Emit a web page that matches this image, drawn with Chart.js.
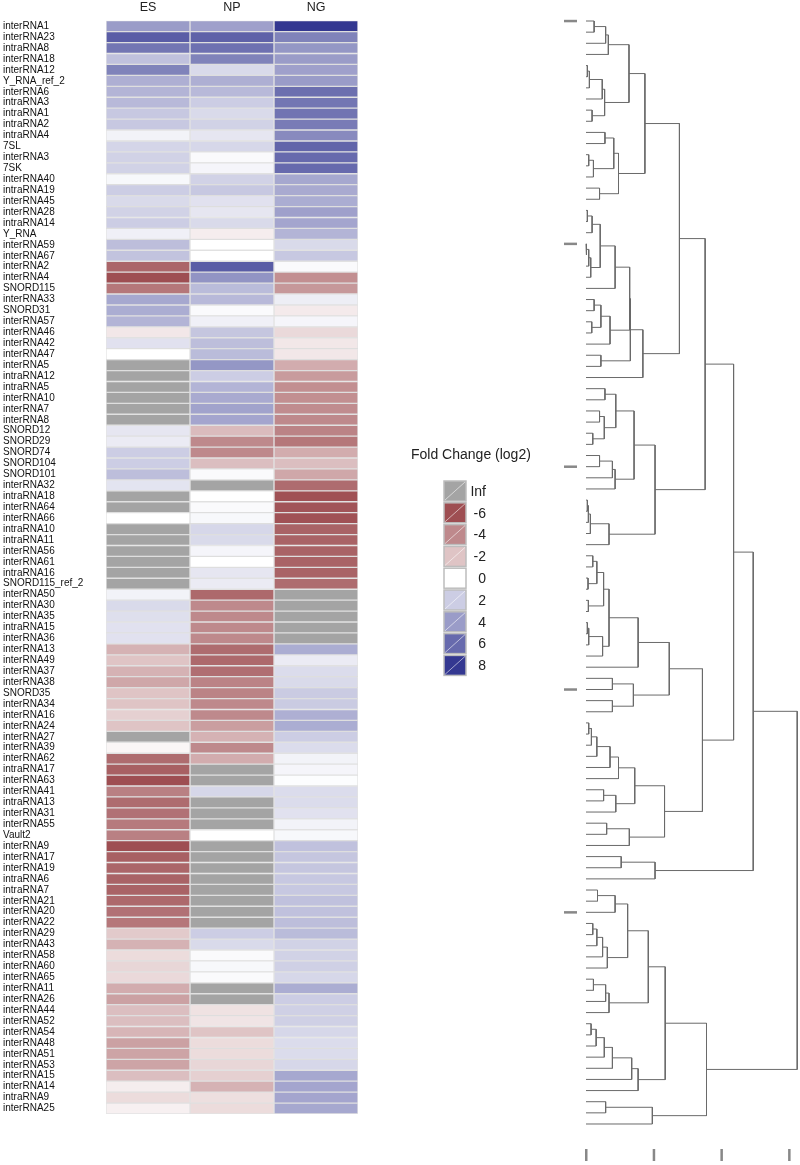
<!DOCTYPE html>
<html>
<head>
<meta charset="utf-8">
<script src="https://cdn.jsdelivr.net/npm/chart.js@4.4.0/dist/chart.umd.min.js"></script>
<style>
  body { margin: 0; background: #fff; }
  #heat { position: absolute; left: 0; top: 0; }
  #tree { position: absolute; left: 555px; top: 0; }
</style>
</head>
<body>
<canvas id="heat" width="555" height="1165"></canvas>
<canvas id="tree" width="245" height="1165"></canvas>
<script>
const Inf = Infinity;

const rowNames = [
    "interRNA1", "interRNA23", "intraRNA8", "interRNA18", "interRNA12", "Y_RNA_ref_2", "interRNA6", "intraRNA3", "intraRNA1", "intraRNA2",
    "intraRNA4", "7SL", "interRNA3", "7SK", "interRNA40", "intraRNA19", "interRNA45", "interRNA28", "intraRNA14", "Y_RNA",
    "interRNA59", "interRNA67", "interRNA2", "interRNA4", "SNORD115", "interRNA33", "SNORD31", "interRNA57", "interRNA46", "interRNA42",
    "interRNA47", "interRNA5", "intraRNA12", "intraRNA5", "interRNA10", "interRNA7", "interRNA8", "SNORD12", "SNORD29", "SNORD74",
    "SNORD104", "SNORD101", "interRNA32", "intraRNA18", "interRNA64", "interRNA66", "intraRNA10", "intraRNA11", "interRNA56", "interRNA61",
    "intraRNA16", "SNORD115_ref_2", "interRNA50", "interRNA30", "interRNA35", "intraRNA15", "interRNA36", "interRNA13", "interRNA49", "interRNA37",
    "interRNA38", "SNORD35", "interRNA34", "interRNA16", "interRNA24", "interRNA27", "interRNA39", "interRNA62", "intraRNA17", "interRNA63",
    "interRNA41", "intraRNA13", "interRNA31", "interRNA55", "Vault2", "interRNA9", "interRNA17", "interRNA19", "intraRNA6", "intraRNA7",
    "interRNA21", "interRNA20", "interRNA22", "interRNA29", "interRNA43", "interRNA58", "interRNA60", "interRNA65", "interRNA11", "interRNA26",
    "interRNA44", "interRNA52", "interRNA54", "interRNA48", "interRNA51", "interRNA53", "interRNA15", "interRNA14", "intraRNA9", "interRNA25"
];
const columnNames = ["ES", "NP", "NG"];

// log2 fold change, Inf = grey cell
const esValues = [
    4, 6.5, 5.5, 2.5, 5, 3.2, 3, 2.8, 2.2, 2.2,
    0.5, 1.7, 1.8, 1.8, 0.3, 2, 1.5, 1.8, 2, 0.6,
    2.6, 2.4, -5.2, -6, -4.6, 3.5, 3.3, 3, -0.8, 1.2,
    0, Inf, Inf, Inf, Inf, Inf, Inf, 1, 0.8, 2,
    2, 2.6, 1.1, Inf, Inf, 0, Inf, Inf, Inf, Inf,
    Inf, Inf, 0.5, 1.5, 1.3, 1.2, 1.2, -2.6, -2, -2.6,
    -3, -2, -2, -1.6, -2, Inf, -0.3, -5, -5.4, -6,
    -4.3, -5, -4.8, -4.5, -4.3, -6, -5.4, -5.2, -5.3, -5.3,
    -5.1, -4.8, -4.6, -1.8, -2.6, -1.2, -1.4, -1.3, -2.8, -3.2,
    -2.2, -2.2, -2.5, -3.2, -3.1, -3.1, -2.2, -0.6, -1.2, -0.5
];
const npValues = [
    3.8, 6.3, 5.7, 5, 1.5, 3.2, 2.8, 2, 1.5, 1.8,
    1, 1.6, 0.2, 0.4, 1.8, 2.2, 1.2, 1, 1.5, -0.6,
    0, 0, 6.5, 4.3, 2.7, 2.8, 0.2, 0.6, 2.3, 2.6,
    2.7, 4.2, 2, 3, 3.4, 3.7, 3.6, -2.3, -4, -4,
    -2.2, 0.2, Inf, 0, 0.2, 0.3, 1.6, 1.5, 0.4, 0,
    1, 0.8, -5.1, -4, -4, -4, -4, -5, -5.1, -4.9,
    -4.2, -4.2, -4, -4, -3.3, -2.6, -4, -2.8, Inf, Inf,
    1.6, Inf, Inf, Inf, 0, Inf, Inf, Inf, Inf, Inf,
    Inf, Inf, Inf, 2, 1.5, 0.2, 0.3, 0.2, Inf, Inf,
    -1, -0.9, -2, -1.2, -1.2, -1.4, -1.6, -2.6, -1.1, -1.2
];
const ngValues = [
    8, 5, 4.2, 4, 3.8, 4, 5.8, 5.5, 5.6, 5.3,
    4.7, 6.2, 6, 6, 3.5, 3.4, 3.3, 3.8, 3.6, 3,
    1.5, 2.2, 0.2, -3.8, -3.5, 0.7, -0.7, 0.4, -1.3, -0.8,
    -0.8, -2.8, -3.4, -3.8, -3.8, -3.9, -4, -4.2, -4.6, -2.8,
    -2.2, -3, -5, -5.9, -5.8, -5.9, -5.3, -5.3, -5.3, -5.3,
    -5.3, -5, Inf, Inf, Inf, Inf, Inf, 3.3, 0.8, 1.4,
    1.5, 2.1, 2.1, 3.2, 3.3, 2, 1.4, 0.5, 0.4, 0.1,
    1.4, 1.4, 1.2, 0.5, 0.3, 2.5, 2.3, 2.3, 2.2, 2.2,
    2.5, 2.5, 2.6, 2.7, 1.8, 1.8, 1.9, 1.6, 3.3, 2,
    1.9, 1.9, 1.6, 1.4, 1.4, 1.6, 3.5, 3.6, 3.6, 3.5
];

const legendValues = [Inf, -6, -4, -2, 0, 2, 4, 6, 8];
const legendLabels = ["Inf", "-6", "-4", "-2", "0", "2", "4", "6", "8"];
const legendTitle = "Fold Change (log2)";

// dendrogram: (left,right)height, leaves are row indexes
const treeA = "(((0,1)0.12,2)0.29,3)0.33";
const treeB = "((((4,5)0.02,6)0.05,7)0.24,(8,9)0.09)0.275";
const treeC = "(((10,11)0.28,((12,13)0.04,14)0.11)0.41,(15,16)0.2)0.48";
const treeD1 = "((((17,18)0.02,19)0.09,(((20,21)0.01,22)0.04,23)0.07)0.21,24)0.43";
const treeD2 = "(((25,26)0.12,(27,28)0.085)0.22,29)0.355";
const treeE1 = "(((33,34)0.28,((35,36)0.2,(37,38)0.1)0.27)0.44,(((39,40)0.2,41)0.39,42)0.43)0.71";
const treeE2 = "((((43,44)0.02,45)0.035,46)0.065,47)0.34";
const treeU1a = "(((((48,49)0.1,(50,51)0.03)0.16,(52,53)0.035)0.26,(((54,55)0.02,56)0.04,57)0.245)0.34,58)0.77";
const treeU1b = "((59,60)0.39,(61,62)0.39)0.7";
const treeU2a = "((((((63,64)0.04,65)0.08,66)0.16,67)0.355,68)0.48,((69,70)0.26,71)0.44)0.72";
const treeU2b = "((72,73)0.305,74)0.64";
const treeS = "((75,76)0.52,77)1.02";
const treeQ1a = "((((78,79)0.17,80)0.43,((((81,82)0.1,83)0.16,84)0.245,85)0.315)0.615,(((86,87)0.11,88)0.29,89)0.34)0.92";
const treeQ1b = "((((((90,91)0.075,92)0.15,93)0.27,94)0.39,95)0.675,96)0.77";
const treeQ2 = "((97,98)0.29,99)0.98";

const treeV = `(((${treeA},${treeB})0.635,${treeC})0.87,(((${treeD1},${treeD2})0.645,(30,31)0.22)0.655,32)0.84)1.38`;
const treeT = `(${treeV},(${treeE1},${treeE2})1.02)1.76`;
const treeU = `((${treeU1a},${treeU1b})1.23,(${treeU2a},${treeU2b})1.16)1.72`;
const treeQ = `((${treeQ1a},${treeQ1b})1.17,${treeQ2})1.78`;
const treeString = `(((${treeT},${treeU})2.18,${treeS})2.47,${treeQ})3.12`;

const treeHeightTicks = [0, 1, 2, 3];
const treeLeafTicks = [0, 20, 40, 60, 80];

Chart.defaults.font.family = "'Liberation Sans', Arial, sans-serif";
Chart.defaults.color = "#222";

const blueEnd = [52, 56, 145];
const redEnd = [158, 78, 82];

const colorFor = v => {
    if (!isFinite(v)) return "rgb(164,164,164)";
    const end = v > 0 ? blueEnd : redEnd;
    const t = Math.min(Math.abs(v) / (v > 0 ? 8 : 6), 1);
    const c = end.map(e => Math.round(255 + (e - 255) * t));
    return `rgb(${c[0]},${c[1]},${c[2]})`;
};

const legendPlugin = {
    id: "foldLegend",
    afterDraw(chart) {
        const ctx = chart.ctx;
        ctx.save();
        ctx.fillStyle = "#222";
        ctx.font = "14px 'Liberation Sans', Arial, sans-serif";
        ctx.textAlign = "left";
        ctx.textBaseline = "middle";
        ctx.fillText(legendTitle, 411, 455);
        const x = 444, top = 481, step = 21.8, w = 22, h = 20;
        legendValues.forEach((v, i) => {
            const y = top + i * step;
            ctx.fillStyle = colorFor(v);
            ctx.fillRect(x, y, w, h);
            ctx.strokeStyle = "#bdbdbd";
            ctx.lineWidth = 1.5;
            ctx.strokeRect(x, y, w, h);
            ctx.strokeStyle = "rgba(255,255,255,0.7)";
            ctx.lineWidth = 0.8;
            ctx.beginPath();
            ctx.moveTo(x + 1, y + h - 1);
            ctx.lineTo(x + w - 1, y + 1);
            ctx.stroke();
            ctx.fillStyle = "#222";
            ctx.textAlign = "right";
            ctx.fillText(legendLabels[i], 486, y + h / 2 + 1);
        });
        ctx.restore();
    }
};

const columnData = [esValues, npValues, ngValues];

const heat = new Chart(document.getElementById("heat"), {
    type: "bar",
    data: {
        labels: rowNames,
        datasets: columnNames.map((name, c) => ({
            label: name,
            data: rowNames.map(() => 1),
            backgroundColor: columnData[c].map(colorFor),
            borderColor: "rgba(205,205,205,0.55)",
            borderWidth: 1,
            borderSkipped: false,
            barPercentage: 1,
            categoryPercentage: 1
        }))
    },
    options: {
        responsive: false,
        animation: false,
        indexAxis: "y",
        layout: { padding: { left: 3, right: 197, top: 0, bottom: 51 } },
        plugins: { legend: { display: false }, tooltip: { enabled: false } },
        scales: {
            x: {
                stacked: true,
                position: "top",
                min: 0,
                max: 3,
                grid: { display: false, drawTicks: false },
                border: { display: false },
                afterBuildTicks: scale => {
                    scale.ticks = columnNames.map((n, i) => ({ value: i + 0.5 }));
                },
                afterFit: scale => { scale.height = 20.7; },
                ticks: {
                    padding: 6,
                    font: { size: 12.5 },
                    color: "#222",
                    callback: v => columnNames[Math.floor(v)]
                }
            },
            y: {
                stacked: true,
                grid: { display: false, drawTicks: false },
                border: { display: false },
                afterFit: scale => { scale.width = 103; },
                ticks: {
                    autoSkip: false,
                    crossAlign: "far",
                    font: { size: 10 },
                    color: "#111"
                }
            }
        }
    },
    plugins: [legendPlugin]
});

// dendrogram
function parseTree(str) {
    let pos = 0;
    const readNumber = () => {
        const m = /^[\d.]+/.exec(str.slice(pos));
        pos += m[0].length;
        return parseFloat(m[0]);
    };
    const node = () => {
        if (str[pos] === "(") {
            pos++;
            const left = node();
            pos++;
            const right = node();
            pos++;
            const h = readNumber();
            return { left, right, h };
        }
        return { leaf: readNumber(), h: 0 };
    };
    return node();
}

const treeSegments = [];
const layoutTree = n => {
    if (n.leaf !== undefined) { n.y = n.leaf; return; }
    layoutTree(n.left);
    layoutTree(n.right);
    n.y = (n.left.y + n.right.y) / 2;
    treeSegments.push([
        { x: n.left.h, y: n.left.y },
        { x: n.h, y: n.left.y },
        { x: n.h, y: n.right.y },
        { x: n.right.h, y: n.right.y }
    ]);
};
layoutTree(parseTree(treeString));

const treeTicksPlugin = {
    id: "treeTicks",
    afterDraw(chart) {
        const ctx = chart.ctx;
        const xs = chart.scales.x, ys = chart.scales.y;
        ctx.save();
        ctx.fillStyle = "#888";
        treeHeightTicks.forEach(h => {
            const px = xs.getPixelForValue(h);
            ctx.fillRect(px - 1, 1149, 2.5, 12);
        });
        const x0 = xs.getPixelForValue(0);
        treeLeafTicks.forEach(i => {
            const py = ys.getPixelForValue(i);
            ctx.fillRect(x0 - 22, py - 1.2, 13, 2.5);
        });
        ctx.restore();
    }
};

const tree = new Chart(document.getElementById("tree"), {
    type: "scatter",
    data: {
        datasets: treeSegments.map(seg => ({
            data: seg,
            showLine: true,
            pointRadius: 0,
            borderColor: "#6a6a6a",
            borderWidth: 1,
            fill: false
        }))
    },
    options: {
        responsive: false,
        animation: false,
        layout: { padding: 0 },
        plugins: { legend: { display: false }, tooltip: { enabled: false } },
        scales: {
            x: { type: "linear", display: false, min: -0.458, max: 3.161 },
            y: { type: "linear", display: false, reverse: true, min: -1.885, max: 102.68 }
        }
    },
    plugins: [treeTicksPlugin]
});
</script>
</body>
</html>
